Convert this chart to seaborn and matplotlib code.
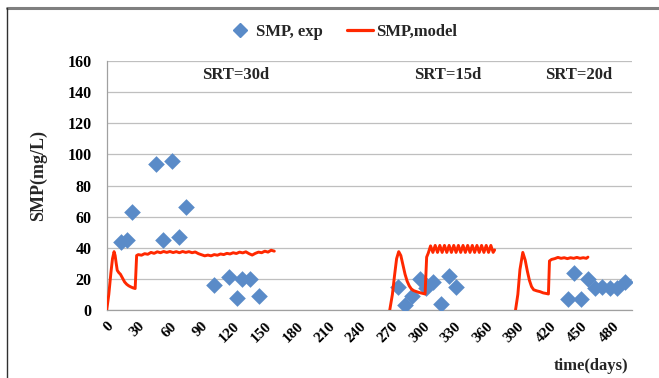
import numpy as np
import pandas as pd
import matplotlib
matplotlib.use('Agg')
import matplotlib.pyplot as plt
import seaborn as sns
from matplotlib.lines import Line2D

# ---------------- data ----------------
exp_days = [13.5, 18.9, 23.7, 46.7, 53.6, 61.9, 68.5, 75.1, 102, 116, 124, 128.5, 135.8, 144.6,
            276.5, 282.6, 289.5, 296.8, 303.1, 309.4, 317.4, 324.6, 331.6,
            437.3, 443, 450, 456.3, 463.4, 470, 477.3, 484, 492]
exp_smp = [44, 45, 63, 94, 45, 96, 47, 66, 16, 21, 8, 20, 20, 9,
           15, 3, 9, 20, 14, 18, 4, 22, 15,
           7, 24, 7, 20, 14, 15, 14, 14, 18]

model_days_30d = [0, 2, 4, 5.5, 7, 8, 9, 10, 11.5, 13, 15, 17, 19, 21, 23, 25, 27, 28.4,
                  30, 33, 36, 39, 42, 45, 48, 51, 54, 57,
                  60, 63, 66, 69, 72, 75, 78, 81, 84, 87,
                  90, 93, 96, 99, 102, 105, 108, 111, 114, 117,
                  120, 123, 126, 129, 132, 135, 138, 141, 144, 147,
                  150, 153, 156, 159]
model_smp_30d = [0, 10, 24, 33, 37.5, 35, 30, 25.5, 24, 23, 20.5, 18, 16.5, 15.5, 14.8, 14.2, 13.8, 35,
                 35.6, 35.2, 36.2, 35.8, 37.0, 36.4, 37.4, 36.8, 37.6, 37.0,
                 37.6, 36.9, 37.5, 36.8, 37.6, 37.0, 37.5, 36.8, 37.3, 36.2,
                 35.5, 34.8, 35.3, 34.8, 35.6, 35.2, 36.0, 35.6, 36.4, 36.0,
                 36.8, 36.3, 37.2, 36.7, 37.4, 36.2, 35.3, 36.4, 37.2, 36.8,
                 37.8, 37.2, 38.4, 37.8]

model_days_15d = [268.5, 271, 273, 275, 277, 279, 281, 283, 285, 287, 289, 291, 293, 296, 299, 302, 303.5,
                  305, 307.2, 309.4, 311.6, 313.8, 316, 318.2, 320.4, 322.6, 324.8,
                  327, 329.2, 331.4, 333.6, 335.8, 338, 340.2, 342.4, 344.6, 346.8,
                  349, 351.2, 353.4, 355.6, 357.8, 360, 362.2, 364.4, 366.6, 368]
model_smp_15d = [0, 10, 22, 33, 37.5, 35, 29, 23, 18.5, 15.5, 13.5, 12.5, 12, 11.3, 10.8, 10.3, 34,
                 36.5, 41.2, 37.0, 41.5, 37.0, 41.5, 37.0, 41.5, 37.0, 41.5,
                 37.0, 41.5, 37.0, 41.5, 37.0, 41.5, 37.0, 41.5, 37.0, 41.5,
                 37.0, 41.5, 37.0, 41.5, 37.0, 41.5, 37.0, 41.5, 37.0, 38.6]

model_days_20d = [387.8, 390, 392, 394.7, 397, 399, 401, 403, 405, 408,
                  411, 414, 417, 419, 420, 422, 425, 428, 431, 434,
                  437, 440, 443, 446, 449, 452, 455, 456.5]
model_smp_20d = [0, 10, 26, 37, 32, 25, 19, 15, 13, 12.3,
                 11.8, 11.0, 10.6, 10.3, 31.5, 32.5, 33.0, 33.8, 33.2, 33.6,
                 33.0, 33.6, 33.2, 33.8, 33.2, 33.6, 33.2, 34]

srt_labels = ["SRT=30d", "SRT=15d", "SRT=20d"]
srt_x = [122.5, 323, 447.5]
x_ticks = [0, 30, 60, 90, 120, 150, 180, 210, 240, 270, 300, 330, 360, 390, 420, 450, 480]
y_ticks = [0, 20, 40, 60, 80, 100, 120, 140, 160]

# ---------------- style ----------------
sns.set_theme(style='white')
plt.rcParams['font.family'] = ['Liberation Serif', 'DejaVu Serif']
plt.rcParams['font.weight'] = 'bold'

BLUE = '#5A8BC8'
RED = '#FF2800'

fig = plt.figure(figsize=(6.59, 3.78), dpi=100)
ax = fig.add_axes([106.7 / 659, 1 - 310 / 378, (631.7 - 106.7) / 659, (310 - 61) / 378])

model_df = pd.concat([
    pd.DataFrame({'day': model_days_30d, 'smp': model_smp_30d, 'seg': 'a'}),
    pd.DataFrame({'day': model_days_15d, 'smp': model_smp_15d, 'seg': 'b'}),
    pd.DataFrame({'day': model_days_20d, 'smp': model_smp_20d, 'seg': 'c'}),
], ignore_index=True)
exp_df = pd.DataFrame({'day': exp_days, 'smp': exp_smp})

sns.scatterplot(data=exp_df, x='day', y='smp', marker='D', s=72, color=BLUE,
                linewidth=0, ax=ax, zorder=3)
sns.lineplot(data=model_df, x='day', y='smp', units='seg', estimator=None, sort=False,
             color=RED, linewidth=2.1, ax=ax, zorder=4)

ax.set_xlim(0, 498)
ax.set_ylim(0, 160)
ax.set_xticks(x_ticks)
ax.set_yticks(y_ticks)
ax.set_xticklabels([str(t) for t in x_ticks], rotation=45, ha='right', va='top',
                   rotation_mode='anchor', fontsize=11, fontweight='bold')
ax.set_yticklabels([str(t) for t in y_ticks], fontsize=11.5, fontweight='bold')
ax.set_xlabel('')
ax.set_ylabel('')

ax.grid(axis='y', color='#BFBFBF', linewidth=0.9)
ax.grid(axis='x', visible=False)
ax.set_axisbelow(True)
for s in ['top', 'right']:
    ax.spines[s].set_visible(False)
for s in ['left', 'bottom']:
    ax.spines[s].set_color('#A0A0A0')
    ax.spines[s].set_linewidth(0.9)
ax.tick_params(axis='both', which='major', direction='out', length=4, width=0.9,
               color='#A0A0A0', labelcolor='black')
ax.tick_params(axis='y', pad=7)
ax.tick_params(axis='x', pad=3)

for lab, xx in zip(srt_labels, srt_x):
    ax.text(xx, 151, lab, ha='center', va='center', fontsize=12, fontweight='bold')

fig.text(38 / 659, 1 - 175 / 378, 'SMP(mg/L)', rotation=90, ha='center', va='center',
         fontsize=13, fontweight='bold')
fig.text(628 / 659, 1 - 366 / 378, 'time(days)', ha='right', va='center',
         fontsize=12, fontweight='bold')

handles = [Line2D([], [], marker='D', linestyle='none', color=BLUE, markersize=7),
           Line2D([], [], color=RED, linewidth=2.3)]
fig.legend(handles, ['SMP, exp', 'SMP,model'], loc='center', ncol=2,
           bbox_to_anchor=(342 / 659, 1 - 32 / 378), frameon=False,
           prop={'size': 12, 'weight': 'bold'}, handlelength=1.6, handletextpad=0.2,
           columnspacing=1.4)

# frame border (top and left edges visible in the reference)
fig.add_artist(Line2D([7 / 659, 1.0], [1 - 7.5 / 378, 1 - 7.5 / 378], transform=fig.transFigure,
                      color='#7F7F7F', linewidth=2.2))
fig.add_artist(Line2D([7 / 659, 7 / 659], [0, 1 - 7.5 / 378], transform=fig.transFigure,
                      color='#303030', linewidth=1.0))

fig.savefig('out.png', dpi=100)
